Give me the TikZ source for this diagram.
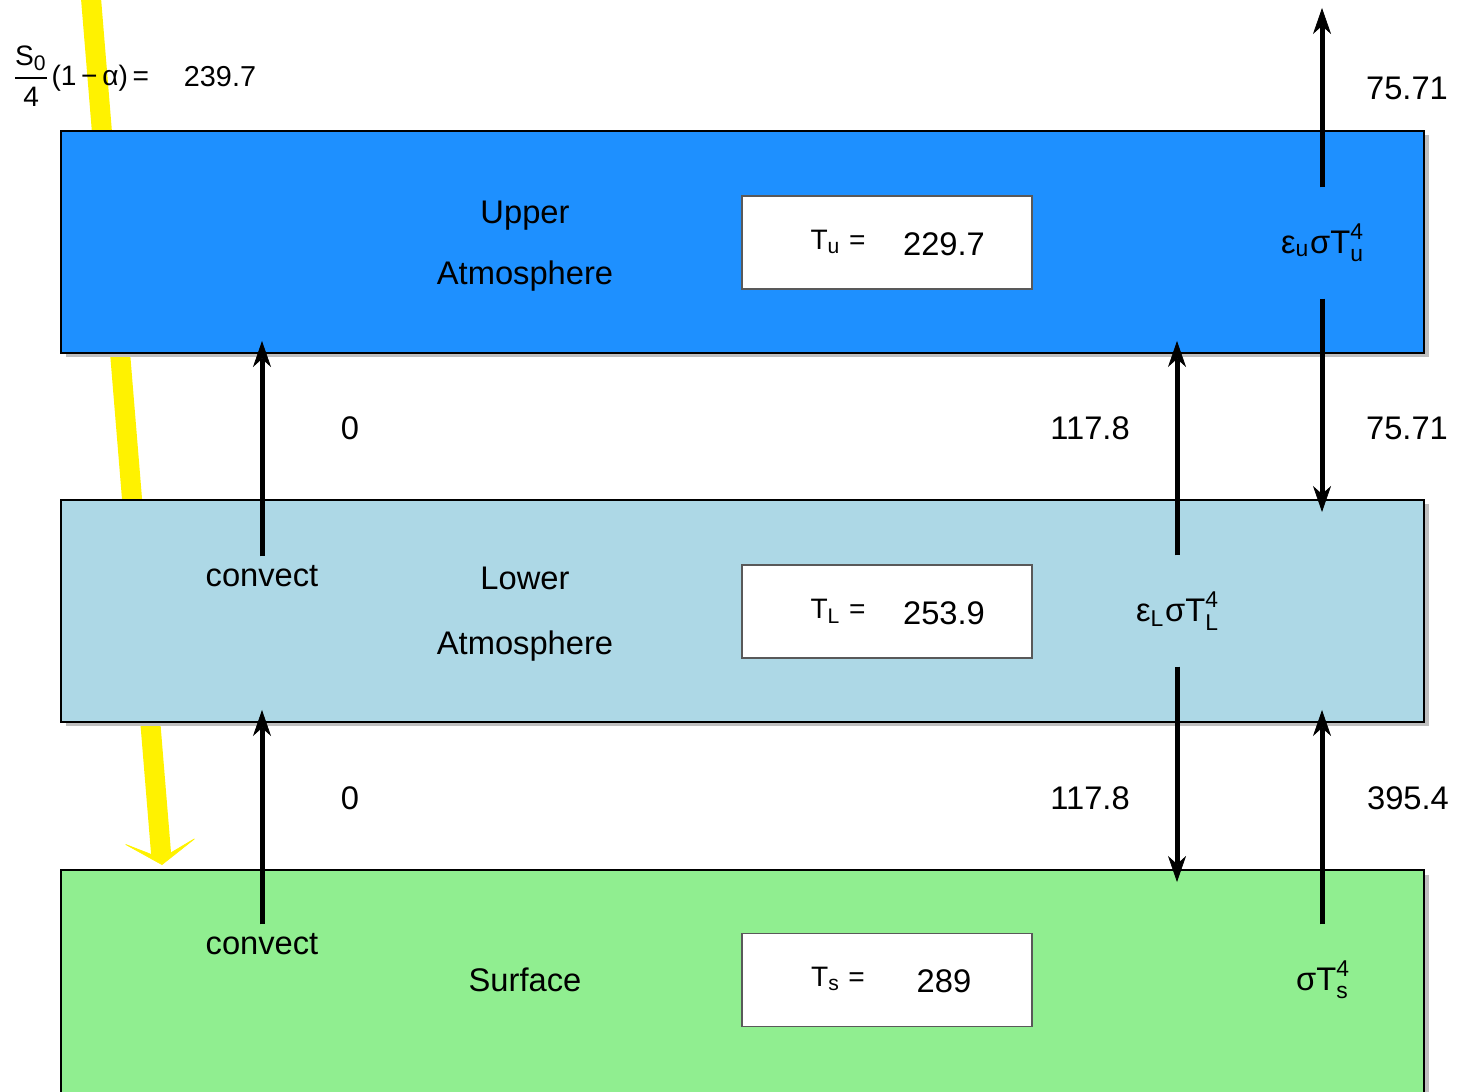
\documentclass[tikz,border=0pt]{standalone}
\usepackage{fontspec}
\setmainfont{Liberation Sans}
\usetikzlibrary{arrows.meta,shadows}
\newcommand{\Tfour}[1]{T\rlap{\raisebox{0.8ex}{\fontsize{6.5}{6.5}\selectfont 4}}\raisebox{-0.5ex}{\fontsize{6.5}{6.5}\selectfont #1}}
\tikzset{
  layer/.style={draw=black, line width=0.02cm, minimum width=13.63cm,
    drop shadow={shadow xshift=0.045cm,shadow yshift=-0.045cm,fill=black!25,opacity=1}},
  tempbox/.style={draw=black!65, fill=white, line width=0.015cm, minimum width=2.9cm, minimum height=0.93cm},
  lbl/.style={font=\fontsize{9.3}{11}\selectfont},
  small/.style={font=\fontsize{8}{10}\selectfont},
  emit/.style={lbl, minimum height=1.1cm, inner sep=0pt},
  flux/.style={line width=0.05cm, shorten >=-0.13cm,
    -{Stealth[length=0.26cm,width=0.18cm,inset=0.08cm,line width=0.2pt]}},
}
\begin{document}
\begin{tikzpicture}
  \useasboundingbox (0,0) rectangle (14.61,10.91);
  % incoming sunlight
  \coordinate (sun) at (0.90,11.05);
  \coordinate (ground) at (1.62,2.26);
  \draw[yellow, line width=0.2cm,
    -{Stealth[length=0.26cm,width=0.78cm,inset=0.19cm,line width=0.2pt]}] (sun) -- (ground);
  \node[small] (insol) at (0.80,10.15) {$\displaystyle\frac{\hbox{S\textsubscript{0}}}{\hbox{4}}$(1\,−\,α)\,=};
  \node[font=\fontsize{8.2}{10}\selectfont] (insolval) at (2.20,10.14) {239.7};

  % the three layers
  \node[layer, fill={rgb,255:red,30;green,144;blue,255}, minimum height=2.22cm] (upper) at (7.425,8.49) {};
  \node[layer, fill={rgb,255:red,173;green,216;blue,230}, minimum height=2.22cm] (lower) at (7.425,4.80) {};
  \node[layer, fill={rgb,255:red,144;green,238;blue,144}, minimum height=2.30cm] (surf) at (7.425,1.06) {};

  \node[lbl, align=center, text depth=0pt] (upname) at (5.25,8.48) {Upper\\[0.22cm]Atmosphere};
  \node[lbl, align=center, text depth=0pt] (loname) at (5.25,4.80) {Lower\\[0.26cm]Atmosphere};
  \node[lbl] (sfname) at (5.25,1.11) {Surface};

  % temperatures
  \node[tempbox] (upT) at (8.87,8.485) {};
  \node[tempbox] (loT) at (8.87,4.795) {};
  \node[tempbox] (sfT) at (8.87,1.11) {};
  \node[small] at (8.38,8.49) {T\textsubscript{u} =};
  \node[lbl] at (9.44,8.47) {229.7};
  \node[small] at (8.38,4.80) {T\textsubscript{L} =};
  \node[lbl] at (9.44,4.78) {253.9};
  \node[small] at (8.38,1.12) {T\textsubscript{s} =};
  \node[lbl] at (9.44,1.10) {289};

  % emission terms
  \node[emit] (eu) at (13.22,8.48) {ε\textsubscript{u}σ\Tfour{u}};
  \node[emit] (eL) at (11.77,4.80) {ε\textsubscript{L}σ\Tfour{L}};
  \node[emit] (es) at (13.22,1.11) {σ\Tfour{s}};
  \node[lbl, minimum height=0.38cm, inner sep=0pt] (conv1) at (2.62,5.15) {convect};
  \node[lbl, minimum height=0.38cm, inner sep=0pt] (conv2) at (2.62,1.47) {convect};
  \coordinate (space) at (13.22,10.83);

  % fluxes
  \draw[flux, shorten >=0pt] (eu.north) -- (space);
  \draw[flux] (eu.south) -- (eu.south |- lower.north);
  \draw[flux] (eL.north) -- (eL.north |- upper.south);
  \draw[flux] (eL.south) -- (eL.south |- surf.north);
  \draw[flux] (es.north) -- (es.north |- lower.south);
  \draw[flux] (conv1.north) -- (conv1.north |- upper.south);
  \draw[flux] (conv2.north) -- (conv2.north |- lower.south);

  % flux values
  \node[lbl] (f1) at (14.07,10.03) {75.71};
  \node[lbl] (f2) at (14.07,6.63) {75.71};
  \node[lbl] (f3) at (14.08,2.93) {395.4};
  \node[lbl] (f4) at (10.90,6.63) {117.8};
  \node[lbl] (f5) at (10.90,2.93) {117.8};
  \node[lbl] (f6) at (3.50,6.63) {0};
  \node[lbl] (f7) at (3.50,2.93) {0};
\end{tikzpicture}
\end{document}
